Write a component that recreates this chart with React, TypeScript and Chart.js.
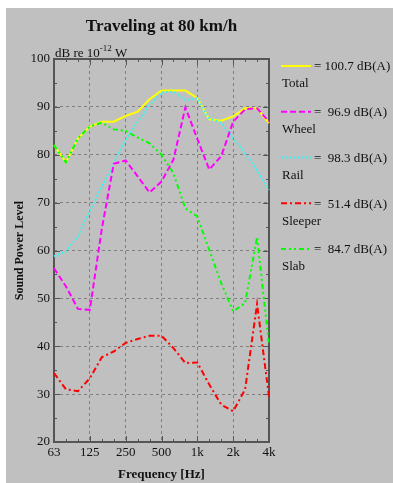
import React, { useEffect, useRef } from 'react';
import { Chart, registerables } from 'chart.js';

Chart.register(...registerables);

const bands = ['63', '80', '100', '125', '160', '200', '250', '315', '400', '500', '630', '800', '1k', '1.25k', '1.6k', '2k', '2.5k', '3.15k', '4k'];
const tickLabels = ['63', '125', '250', '500', '1k', '2k', '4k'];
const seriesNames = ['Total', 'Wheel', 'Rail', 'Sleeper', 'Slab'];
const seriesTotals = [100.7, 96.9, 98.3, 51.4, 84.7];

const total = [82.0, 78.4, 83.4, 85.9, 86.9, 86.9, 88.1, 89.0, 91.6, 93.4, 93.4, 93.4, 91.8, 87.4, 87.1, 88.0, 89.7, 89.7, 86.6];
const wheel = [56.3, 52.5, 47.8, 47.6, 64.5, 78.1, 78.8, 75.5, 72.1, 74.4, 79.0, 89.9, 83.3, 76.9, 79.7, 86.9, 89.5, 89.7, 86.9];
const rail = [58.8, 59.8, 63.0, 68.3, 73.3, 78.2, 83.1, 86.9, 90.4, 93.0, 93.2, 91.4, 91.8, 87.6, 86.7, 83.4, 80.3, 76.8, 72.7];
const sleeper = [34.4, 31.0, 30.6, 33.3, 37.7, 38.9, 40.7, 41.5, 42.2, 42.2, 39.6, 36.5, 36.6, 32.0, 27.8, 26.4, 31.0, 48.8, 29.5];
const slab = [82.0, 78.4, 83.4, 85.9, 86.7, 85.3, 85.0, 83.6, 82.4, 80.0, 76.1, 68.8, 67.1, 60.1, 53.2, 47.3, 49.0, 62.8, 40.3];

const seriesValues = [total, wheel, rail, sleeper, slab];
const seriesColors = ['#ffff00', '#ff00ff', '#40f0f0', '#ff0000', '#00ff00'];
const seriesDashes: number[][] = [[], [6, 3], [2, 2], [6, 3, 2, 3], [5, 3, 2, 3, 2, 3]];
const seriesOrder = [1, 0, 0, 0, 0];

const yMin = 20;
const yMax = 100;
const FONT = "'Liberation Serif', 'Times New Roman', serif";
const TEXT = '#111';
const FRAME = '#555';
const GRID = '#7f7f7f';

const decor = {
  id: 'decor',
  beforeDatasetsDraw(chart: any) {
    const { ctx, chartArea: a, scales } = chart;
    const x = scales.x;
    const y = scales.y;
    ctx.save();
    ctx.strokeStyle = FRAME;
    ctx.lineWidth = 1;
    bands.forEach((b, i) => {
      const px = Math.round(x.getPixelForValue(i)) + 0.5;
      const len = tickLabels.includes(b) ? 6 : 3;
      ctx.beginPath();
      ctx.moveTo(px, a.top);
      ctx.lineTo(px, a.top + len);
      ctx.moveTo(px, a.bottom);
      ctx.lineTo(px, a.bottom - len);
      ctx.stroke();
    });
    for (let v = yMin; v <= yMax; v += 5) {
      const py = Math.round(y.getPixelForValue(v)) + 0.5;
      const len = v % 10 === 0 ? 6 : 3;
      ctx.beginPath();
      ctx.moveTo(a.left, py);
      ctx.lineTo(a.left + len, py);
      ctx.moveTo(a.right, py);
      ctx.lineTo(a.right - len, py);
      ctx.stroke();
    }
    ctx.lineWidth = 2;
    ctx.strokeRect(a.left, a.top, a.right - a.left, a.bottom - a.top);
    ctx.restore();
  },
  afterDraw(chart: any) {
    const { ctx, chartArea: a } = chart;
    ctx.save();
    ctx.fillStyle = TEXT;
    // title
    ctx.font = `bold 17px ${FONT}`;
    ctx.textAlign = 'center';
    ctx.textBaseline = 'middle';
    ctx.fillText('Traveling at 80 km/h', (a.left + a.right) / 2, 19);
    // unit
    ctx.textAlign = 'left';
    ctx.textBaseline = 'alphabetic';
    ctx.font = `13px ${FONT}`;
    const ux = a.left + 1;
    const uy = a.top - 2;
    const t1 = 'dB re 10';
    ctx.fillText(t1, ux, uy);
    let w = ctx.measureText(t1).width;
    ctx.font = `9px ${FONT}`;
    ctx.fillText('-12', ux + w, uy - 6);
    w += ctx.measureText('-12').width;
    ctx.font = `13px ${FONT}`;
    ctx.fillText(' W', ux + w, uy);
    // legend
    const lx = a.right + 12;
    seriesNames.forEach((name, k) => {
      const ly = a.top + 7 + k * 45.75;
      ctx.save();
      ctx.strokeStyle = seriesColors[k];
      ctx.lineWidth = 2;
      ctx.setLineDash(seriesDashes[k]);
      ctx.beginPath();
      ctx.moveTo(lx, ly);
      ctx.lineTo(lx + 30, ly);
      ctx.stroke();
      ctx.restore();
      ctx.font = `13px ${FONT}`;
      ctx.textBaseline = 'middle';
      const val = seriesTotals[k];
      const txt = (val >= 100 ? '= ' : '=  ') + val.toFixed(1) + ' dB(A)';
      ctx.fillText(txt, lx + 33, ly + 1);
      ctx.fillText(name, lx + 1, ly + 18);
    });
    ctx.restore();
  },
};

export default function App() {
  const ref = useRef<HTMLCanvasElement | null>(null);
  useEffect(() => {
    if (!ref.current) return;
    const chart = new Chart(ref.current, {
      type: 'line',
      data: {
        labels: bands,
        datasets: seriesNames.map((name, k) => ({
          label: name,
          data: seriesValues[k],
          borderColor: seriesColors[k],
          backgroundColor: seriesColors[k],
          borderDash: seriesDashes[k],
          borderWidth: 2,
          pointRadius: 0,
          tension: 0,
          fill: false,
          order: seriesOrder[k],
        })),
      },
      options: {
        animation: false,
        responsive: false,
        layout: { padding: { left: 0, top: 51, right: 124, bottom: 0 } },
        plugins: { legend: { display: false }, tooltip: { enabled: false }, title: { display: false } },
        scales: {
          x: {
            type: 'category',
            offset: false,
            afterFit: (s: any) => { s.height = 41; },
            grid: {
              drawTicks: false,
              lineWidth: 1,
              color: (c: any) => (c.index % 3 === 0 && c.index !== 0 && c.index !== bands.length - 1 ? GRID : 'rgba(0,0,0,0)'),
            },
            border: { display: false, dash: [3, 3] },
            ticks: {
              autoSkip: false,
              maxRotation: 0,
              padding: 3,
              color: TEXT,
              font: { family: FONT, size: 13 },
              callback: (_v: any, i: number) => (tickLabels.includes(bands[i]) ? bands[i] : ''),
            },
            title: {
              display: true,
              text: 'Frequency [Hz]',
              color: TEXT,
              font: { family: FONT, size: 13, weight: 'bold' },
              padding: { top: 0, bottom: 1 },
            },
          },
          y: {
            min: yMin,
            max: yMax,
            afterFit: (s: any) => { s.width = 48; },
            grid: {
              drawTicks: false,
              lineWidth: 1,
              color: (c: any) => (c.tick && c.tick.value !== yMin && c.tick.value !== yMax ? GRID : 'rgba(0,0,0,0)'),
            },
            border: { display: false, dash: [3, 3] },
            ticks: {
              stepSize: 10,
              padding: 4,
              color: TEXT,
              font: { family: FONT, size: 13 },
            },
            title: {
              display: true,
              text: 'Sound Power Level',
              color: TEXT,
              font: { family: FONT, size: 12, weight: 'bold' },
              padding: { top: 7, bottom: 0 },
            },
          },
        },
      },
      plugins: [decor],
    });
    return () => chart.destroy();
  }, []);
  return (
    <div style={{ position: 'absolute', left: 6, top: 8, width: 387, height: 475, background: '#c0c0c0' }}>
      <canvas ref={ref} width={387} height={475} style={{ display: 'block' }} />
    </div>
  );
}
